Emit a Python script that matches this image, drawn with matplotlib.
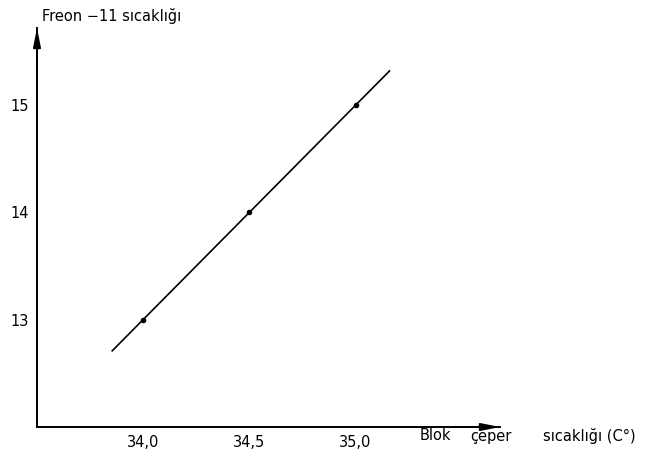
import matplotlib.pyplot as plt

# veriler
blok_sicaklik = [34.0, 34.5, 35.0]
freon_sicaklik = [13.0, 14.0, 15.0]
line_x = [33.854, 35.16]
line_y = [12.71, 15.32]
x_ticks = [34.0, 34.5, 35.0]
x_labels = ["34,0", "34,5", "35,0"]
y_ticks = [13, 14, 15]
y_labels = ["13", "14", "15"]

fig = plt.figure(figsize=(6.61, 4.66), dpi=100)
W, H = 661, 466
ax = fig.add_axes([37 / W, 39 / H, (500 - 37) / W, (427 - 28) / H])
ax.set_xlim(33.5, 35.68)
ax.set_ylim(12.0, 15.72)

for s in ["top", "right"]:
    ax.spines[s].set_visible(False)
for s in ["left", "bottom"]:
    ax.spines[s].set_linewidth(1.4)

ax.set_xticks(x_ticks)
ax.set_xticklabels(x_labels)
ax.set_yticks(y_ticks)
ax.set_yticklabels(y_labels)
ax.tick_params(length=0, labelsize=10.5, pad=6)

# ok uçları (ince ve uzun)
ok = dict(arrowstyle="-|>,head_length=1.1,head_width=0.22", color="black", lw=1.4,
          shrinkA=0, shrinkB=0)
ax.annotate("", xy=(1.0, 0), xytext=(0.9, 0), xycoords="axes fraction",
            arrowprops=ok, annotation_clip=False)
ax.annotate("", xy=(0, 1.0), xytext=(0, 0.9), xycoords="axes fraction",
            arrowprops=ok, annotation_clip=False)

ax.plot(line_x, line_y, color="black", lw=1.2)
ax.plot(blok_sicaklik, freon_sicaklik, "o", color="black", ms=3)

fs = 10.5
fig.text(42 / W, 1 - 16 / H, "Freon −11 sıcaklığı", fontsize=fs, va="center", ha="left")
fig.text(420 / W, 1 - 436 / H, "Blok", fontsize=fs, va="center", ha="left")
fig.text(470 / W, 1 - 436 / H, "çeper", fontsize=fs, va="center", ha="left")
fig.text(543 / W, 1 - 436 / H, "sıcaklığı (C°)", fontsize=fs, va="center", ha="left")

plt.savefig("out.png", dpi=100)
